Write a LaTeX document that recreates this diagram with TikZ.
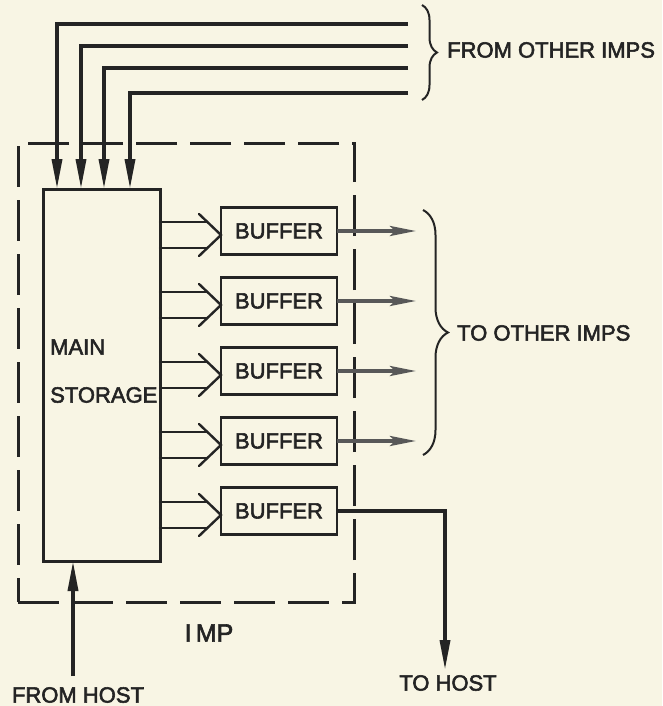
\documentclass[tikz,border=0pt]{standalone}
\usepackage{fontspec}
\setmainfont{Liberation Sans}[BoldFont=Liberation Sans, BoldFeatures={FakeBold=2.5}]
\usetikzlibrary{arrows.meta,calc,decorations.pathreplacing}
\definecolor{paper}{HTML}{F8F5E4}
\definecolor{ink}{HTML}{242424}
\definecolor{grayink}{HTML}{585858}
\begin{document}
\begin{tikzpicture}[x=1pt,y=-1pt,
  lbl/.style={font=\fontsize{22}{26}\selectfont\bfseries, text=ink, inner sep=0pt},
  storagebox/.style={draw=ink, line width=3pt, outer sep=0pt, minimum width=117pt, minimum height=372pt, inner sep=0pt},
  impbox/.style={draw=ink, line width=3pt, outer sep=0pt, inner sep=0pt, minimum width=336pt, minimum height=459pt, dash pattern=on 41pt off 13pt},
  bufbox/.style={draw=ink, line width=2.6pt, outer sep=0pt, minimum width=116pt, minimum height=47pt, inner sep=0pt, font=\fontsize{22}{26}\selectfont\bfseries, text=ink},
  inline/.style={draw=ink, line width=3.5pt, -{Triangle[length=30pt,width=10pt]}},
  busline/.style={draw=ink, line width=2.4pt, line cap=round},
  outline/.style={draw=grayink, line width=3.5pt, -{Stealth[length=26pt,width=10pt,inset=5pt]}},
  bracestyle/.style={draw=ink, line width=2pt, decorate},
]
\fill[paper] (0,0) rectangle (662,706);
\useasboundingbox (0,0) rectangle (662,706);

% IMP dashed boundary
\node[impbox] (imp) at (186,372.5) {};
\node[lbl, font=\fontsize{25}{30}\selectfont\bfseries] (implabel) at (209,633) {I\,MP};

% main storage
\node[storagebox] (storage) at (101.5,375) {};
\node[lbl, anchor=west] (mainlbl) at (50,347) {MAIN};
\node[lbl, anchor=west] (storlbl) at (50,395) {STORAGE};

% incoming lines from other IMPs
\foreach \i/\y/\dx in {1/24/14, 2/46/38, 3/68/61, 4/93/87} {
  \coordinate (in\i) at (408,\y);
  \draw[inline] (in\i) -| ($(storage.north west)+(\dx,0)$);
}
\draw[bracestyle, decoration={brace, amplitude=15pt}] (422,5) -- (422,100);
\node[lbl, anchor=west] (fromimps) at (447,50) {FROM OTHER IMPS};

% buffers
\foreach \i in {1,...,5} {
  \node[bufbox] (b\i) at (279,{231+70*(\i-1)}) {BUFFER};
  \coordinate (t\i) at ($(b\i.west)+(0,4)$);
  \coordinate (u\i) at ($(t\i)+(-14,-13)$);
  \coordinate (l\i) at ($(t\i)+(-14,13)$);
  \draw[busline] (storage.east |- u\i) -- (u\i);
  \draw[busline] (storage.east |- l\i) -- (l\i);
  \draw[busline] ($(t\i)+(-22,-21)$) -- (t\i) -- ($(t\i)+(-22,21)$);
}

% outgoing to other IMPs
\foreach \i in {1,...,4} {
  \coordinate (o\i) at (416,0);
  \draw[outline] (b\i.east) -- (b\i.east -| o\i);
}
\draw[bracestyle, decoration={brace, amplitude=25pt}] (423,210) -- (423,455);
\node[lbl, anchor=west] (toimps) at (457,333) {TO OTHER IMPS};

% host connections
\coordinate (fh) at (73,676);
\draw[inline] (fh) -- ($(storage.south west)+(30,0)$);
\node[lbl] (fromhost) at (78,695) {FROM HOST};

\coordinate (th) at (445,670);
\draw[inline] (b5.east) -| (th);
\node[lbl] (tohost) at (448,683) {TO HOST};
\end{tikzpicture}
\end{document}
